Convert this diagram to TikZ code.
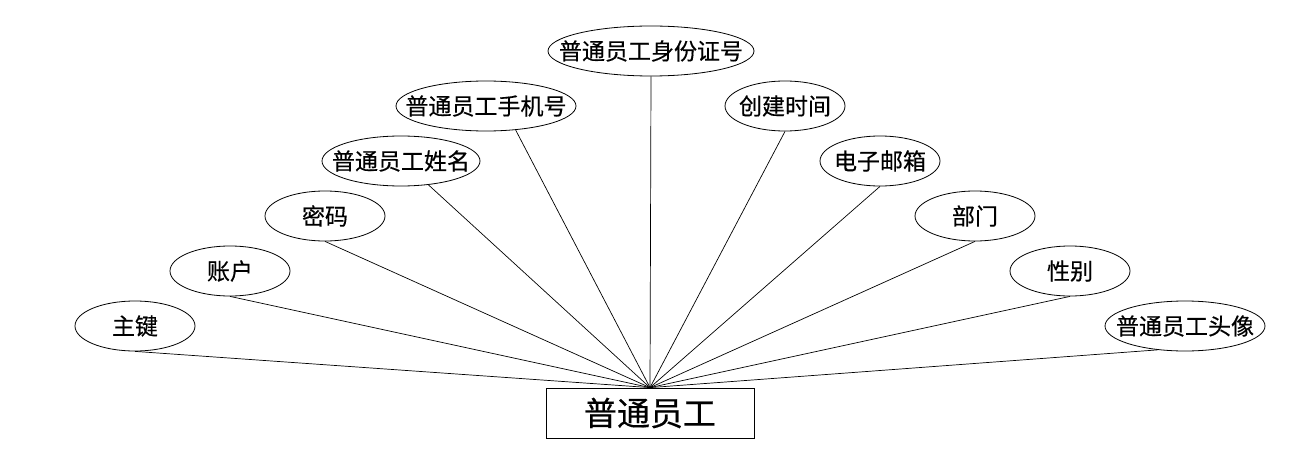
\documentclass[tikz,border=0pt]{standalone}
\usepackage{fontspec}
\setmainfont{Noto Sans CJK SC}[FakeBold=0.4]
\usetikzlibrary{shapes.geometric}

% fixed-size labels, so the ellipse keeps its minimum size
\newcommand{\lbl}[1]{\makebox[0pt]{#1}}

\tikzset{
  attr/.style={draw, ellipse, inner sep=0pt, minimum height=50pt, font=\fontsize{23}{25}\selectfont},
  entity/.style={draw, rectangle, inner sep=0pt, minimum width=208pt, minimum height=50pt, font=\fontsize{33}{36}\selectfont},
  link/.style={line width=0.7pt}
}

\begin{document}
\begin{tikzpicture}[x=1pt, y=-1pt, line width=0.8pt]
    \useasboundingbox (0,0) rectangle (1300,468);

    \node[entity] (yg) at (650,413) {\lbl{普通员工}};

    \node[attr, minimum width=120pt] (zj) at (135,326) {\lbl{主键}};
    \node[attr, minimum width=120pt] (zh) at (230,271) {\lbl{账户}};
    \node[attr, minimum width=120pt] (mm) at (325,216) {\lbl{密码}};
    \node[attr, minimum width=158pt] (xm) at (401,161) {\lbl{普通员工姓名}};
    \node[attr, minimum width=180pt] (sj) at (486,106) {\lbl{普通员工手机号}};
    \node[attr, minimum width=206pt] (sfz) at (651,51) {\lbl{普通员工身份证号}};
    \node[attr, minimum width=120pt] (cj) at (785,106) {\lbl{创建时间}};
    \node[attr, minimum width=120pt] (yx) at (880,161) {\lbl{电子邮箱}};
    \node[attr, minimum width=120pt] (bm) at (975,216) {\lbl{部门}};
    \node[attr, minimum width=120pt] (xb) at (1070,271) {\lbl{性别}};
    \node[attr, minimum width=160pt] (tx) at (1185,326) {\lbl{普通员工头像}};

    \foreach \a in {zj.south,zh.south,mm.south,xm.-41,sj.-39,sfz.south,cj.south,yx.south,bm.south,xb.south,tx.-139}
        \draw[link] (\a) -- (yg.north);
\end{tikzpicture}
\end{document}
